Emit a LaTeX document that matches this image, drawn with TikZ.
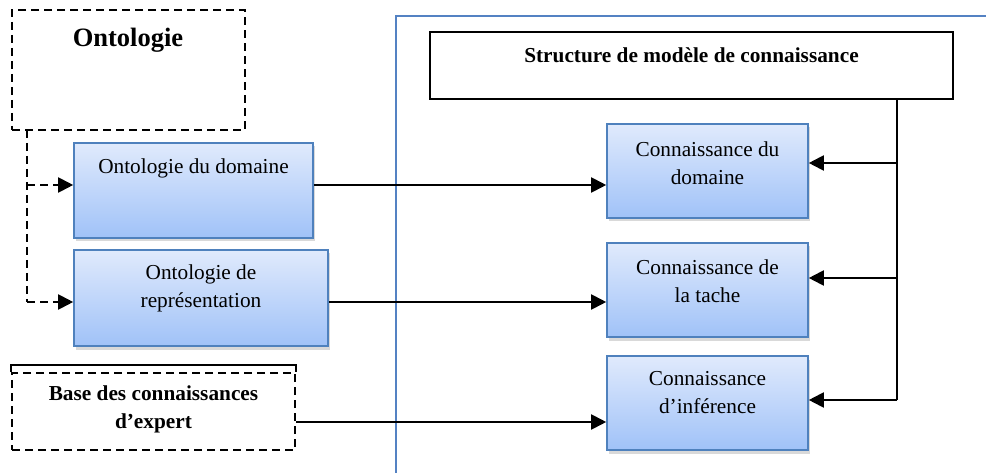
\documentclass[tikz,border=0pt]{standalone}
\usepackage{fontspec}
\setmainfont{Liberation Serif}
\usetikzlibrary{arrows.meta,shadows,calc}
\definecolor{bluebd}{RGB}{79,129,189}
\definecolor{btop}{RGB}{224,234,252}
\definecolor{bbot}{RGB}{160,194,248}
\definecolor{frameblue}{RGB}{84,130,195}
\begin{document}
\begin{tikzpicture}[x=1pt,y=-1pt,
  txt/.style={font=\fontsize{21.3}{28}\selectfont, align=center, inner sep=0pt},
  btxt/.style={txt, font=\bfseries\fontsize{21.3}{28}\selectfont},
  bluebox/.style={draw=bluebd, line width=1.6pt, top color=btop, bottom color=bbot,
    drop shadow={shadow xshift=2pt,shadow yshift=-3.5pt,opacity=0.3,fill=gray}},
  dashbox/.style={draw, line width=2.2pt, dash pattern=on 8pt off 5pt},
  solidbox/.style={draw, line width=1.8pt},
  arr/.style={line width=2pt, -{Triangle[length=15pt,width=15pt]}},
  darr/.style={arr, dash pattern=on 8pt off 5pt},
  conn/.style={line width=2pt},
]
\useasboundingbox (0,0) rectangle (986,473);

% blue frame
\coordinate (fbl) at (396,473);
\coordinate (ftl) at (396,16);
\coordinate (ftr) at (986,16);
\draw[frameblue, line width=1.6pt] (fbl) -- (ftl) -- (ftr);

% left side
\node[dashbox, minimum width=233pt, minimum height=120pt] (ont) at (128.5,70) {};
\node[font=\bfseries\fontsize{26.5}{30}\selectfont, inner sep=0pt] (ontlbl) at (128,40) {Ontologie};

\node[bluebox, minimum width=239pt, minimum height=95pt] (od) at (193.5,190.5) {};
\node[txt] (odlbl) at (193.5,168) {Ontologie du domaine};

\node[bluebox, minimum width=254pt, minimum height=96pt] (rep) at (201,298) {};
\node[txt] (replbl) at (201,288) {Ontologie de\\représentation};

\node[dashbox, minimum width=283pt, minimum height=77pt] (base) at (153.5,411.5) {};
\draw[solidbox] (base.north west) -- ++(0,-7) -- ($(base.north east)+(0,-7)$) -- (base.north east);
\node[btxt] (baselbl) at (153.5,409.5) {Base des connaissances\\d’expert};

% right side
\node[solidbox, minimum width=523pt, minimum height=67pt] (struct) at (691.5,65.5) {};
\node[btxt] (structlbl) at (691.5,55) {Structure de modèle de connaissance};

\node[bluebox, minimum width=201pt, minimum height=94pt] (cd) at (707.5,171) {};
\node[txt] (cdlbl) at (707.5,163) {Connaissance du\\domaine};

\node[bluebox, minimum width=201pt, minimum height=94pt] (ct) at (707.5,290) {};
\node[txt] (ctlbl) at (707.5,281.5) {Connaissance de\\la tache};

\node[bluebox, minimum width=201pt, minimum height=94pt] (ci) at (707.5,403) {};
\node[txt] (cilbl) at (707.5,393) {Connaissance\\d’inférence};

% dashed connectors from Ontologie
\coordinate (dtop) at (27,130);
\coordinate (dbot) at (27,302);
\path ([yshift=5.5pt]od.west) coordinate (odin);
\path ([yshift=-4pt]rep.west) coordinate (repin);
\draw[dashbox] (dtop) -- (dbot);
\draw[darr] (dtop |- odin) -- (odin);
\draw[darr] (dbot) -- (repin);

% left to right connectors
\path ([yshift=5.5pt]od.east) coordinate (o1);
\draw[arr] (o1) -- (o1 -| cd.west);
\path ([yshift=-4pt]rep.east) coordinate (o2);
\draw[arr] (o2) -- (o2 -| ct.west);
\path ([yshift=-10.5pt]base.east) coordinate (o3);
\draw[arr] (o3) -- (o3 -| ci.west);

% bus from structure
\coordinate (bus) at (897,400);
\path ([yshift=8pt]cd.east) coordinate (i1);
\path ([yshift=12pt]ct.east) coordinate (i2);
\path ([yshift=3pt]ci.east) coordinate (i3);
\draw[conn] (struct.south -| bus) -- (bus);
\draw[arr] (bus |- i1) -- (i1);
\draw[arr] (bus |- i2) -- (i2);
\draw[arr] (bus) -- (i3);
\end{tikzpicture}
\end{document}
